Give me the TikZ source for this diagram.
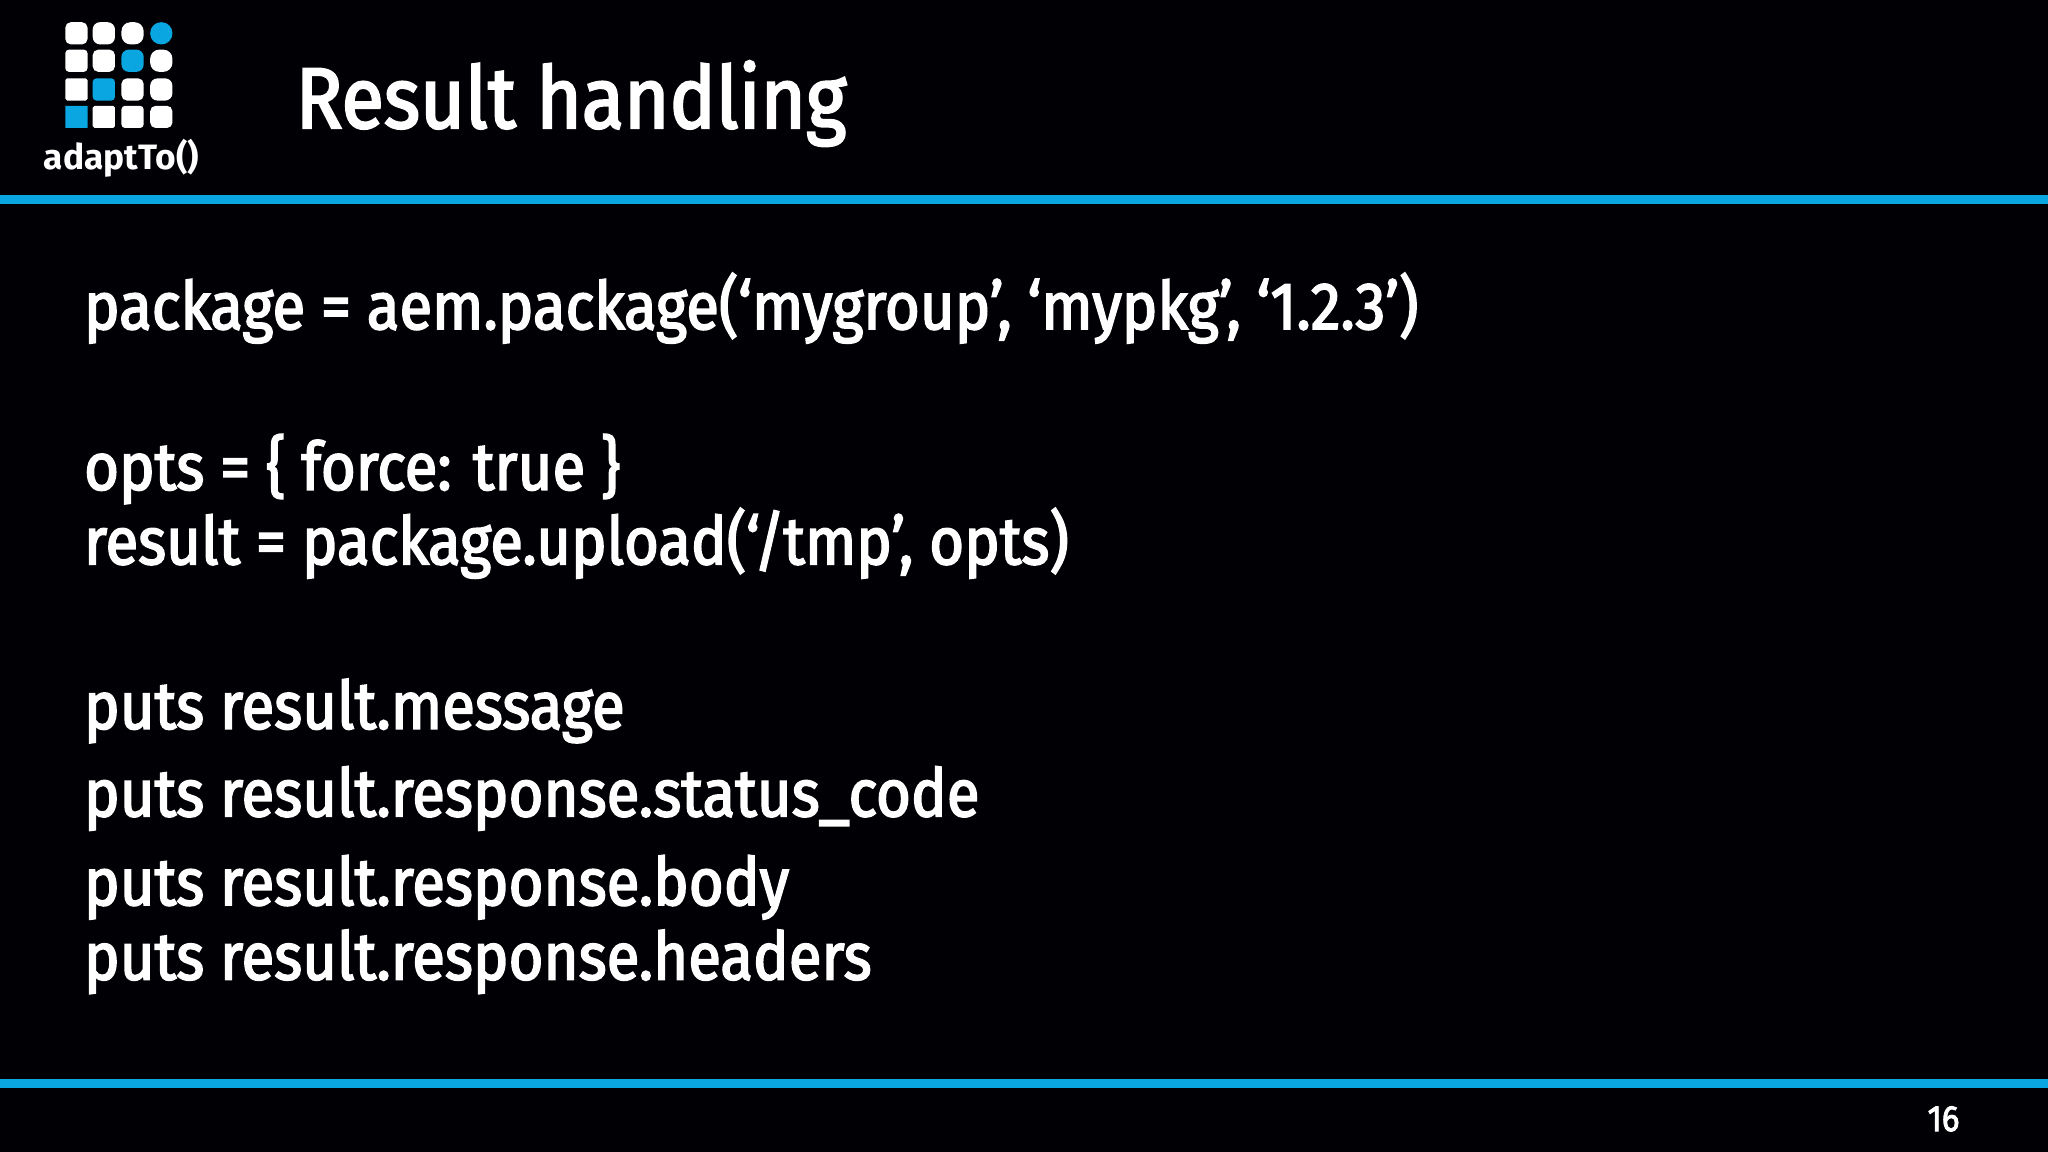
\documentclass[tikz,border=0pt]{standalone}
\usepackage{fontspec}
\setmainfont{Fira Sans}[FakeStretch=0.9,FakeBold=2.5]
\newfontfamily\logofont{Fira Sans}
\definecolor{abl}{HTML}{0AA6E2}
\begin{document}
\begin{tikzpicture}[x=0.5pt,y=-0.5pt,
  body/.style={anchor=base west,text=white,font=\fontsize{25.5}{30}\selectfont,inner sep=0pt},
  bar/.style={fill=abl,draw=none}]
\fill[black!98!blue] (0,0) rectangle (1568,882);
\useasboundingbox (0,0) rectangle (1568,882);
\fill[bar] (0,149) rectangle (1568,156);
\fill[bar] (0,826) rectangle (1568,833);
% logo
\foreach \c/\x in {0/50,1/71,2/93,3/115}{
  \foreach \r/\y in {0/17,1/38,2/60,3/81}{
    \pgfmathsetmacro{\rr}{max(0.3,(\c+3-\r)/6*8.3)}
    \pgfmathsetmacro{\isblue}{(\c+\r==3)?1:0}
    \ifdim\isblue pt>0.5pt
      \fill[abl,rounded corners=\rr*0.5pt] (\x,\y) rectangle ++(17,17);
    \else
      \fill[white,rounded corners=\rr*0.5pt] (\x,\y) rectangle ++(17,17);
    \fi
  }}
\node[anchor=base,text=white,font=\logofont\bfseries\fontsize{13.5}{15}\selectfont,inner sep=0pt] (logo) at (93,130) {adaptTo()};
\node[anchor=base west,text=white,font=\fontsize{33}{40}\selectfont,inner sep=0pt] (title) at (226,98) {Result handling};
\node[body] (l1) at (64,252) {package = aem.package(‘mygroup’, ‘mypkg’, ‘1.2.3’)};
\node[body] (l2) at (64,375) {opts = \{ force: true \}};
\node[body] (l3) at (64,432) {result = package.upload(‘/tmp’, opts)};
\node[body] (l4) at (64,558) {puts result.message};
\node[body] (l5) at (64,625) {puts result.response.status\_code};
\node[body] (l6) at (64,693) {puts result.response.body};
\node[body] (l7) at (64,750) {puts result.response.headers};
\node[anchor=base,text=white,font=\fontsize{14}{16}\selectfont,inner sep=0pt] (pg) at (1488,866) {16};
\end{tikzpicture}
\end{document}
